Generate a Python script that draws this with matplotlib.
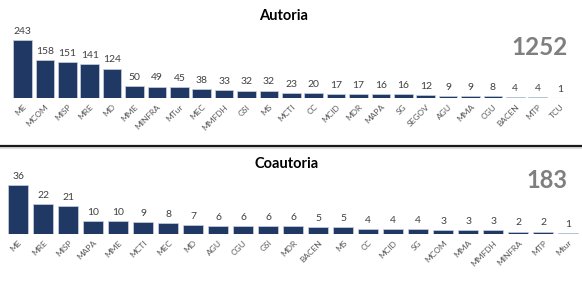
import matplotlib.pyplot as plt
from matplotlib.lines import Line2D

plt.rcParams['font.family'] = ['Lato', 'DejaVu Sans']

# Autoria
aut_labels = ["ME", "MCOM", "MISP", "MRE", "MD", "MME", "MINFRA", "MTur", "MEC",
              "MMFDH", "GSI", "MS", "MCTI", "CC", "MCID", "MDR", "MAPA", "SG",
              "SEGOV", "AGU", "MMA", "CGU", "BACEN", "MTP", "TCU"]
aut_values = [243, 158, 151, 141, 124, 50, 49, 45, 38, 33, 32, 32, 23, 20, 17,
              17, 16, 16, 12, 9, 9, 8, 4, 4, 1]
aut_total = "1252"

# Coautoria
coa_labels = ["ME", "MRE", "MISP", "MAPA", "MME", "MCTI", "MEC", "MD", "AGU",
              "CGU", "GSI", "MDR", "BACEN", "MS", "CC", "MCID", "SG", "MCOM",
              "MMA", "MMFDH", "MINFRA", "MTP", "Mtur"]
coa_values = [36, 22, 21, 10, 10, 9, 8, 7, 6, 6, 6, 6, 5, 5, 4, 4, 4, 3, 3, 3,
              2, 2, 1]
coa_total = "183"

navy = "#1f3864"
label_gray = "#404040"
tick_gray = "#595959"


def draw_bars(ax, labels, values, ymax, width):
    x = range(len(values))
    ax.bar(x, values, width=width, color=navy, edgecolor="#c9d3e0", linewidth=0.5)
    for i, v in zip(x, values):
        ax.annotate(str(v), (i, v), xytext=(0, 3), textcoords="offset points",
                    ha="center", va="bottom", fontsize=7.5, color=label_gray)
    ax.axhline(0, color="#d0d0d0", lw=0.8, zorder=0)
    ax.set_xlim(-0.5, len(values) - 0.5)
    ax.set_ylim(0, ymax)
    ax.set_xticks(list(x))
    ax.set_xticklabels(labels, rotation=45, ha="right", va="top",
                       rotation_mode="anchor", fontsize=6, color=tick_gray)
    ax.tick_params(axis="x", length=0, pad=3.5)
    ax.set_yticks([])
    for s in ax.spines.values():
        s.set_visible(False)
    ax.patch.set_alpha(0)


fig = plt.figure(figsize=(5.82, 2.88), dpi=100)

ax1 = fig.add_axes([0.0196, 0.6587, 0.962, 0.25])
draw_bars(ax1, aut_labels, aut_values, 300, 0.83)

ax2 = fig.add_axes([0.010, 0.1865, 0.988, 0.2127])
draw_bars(ax2, coa_labels, coa_values, 45, 0.8)

fig.text(0.487, 0.944, "Autoria", ha="center", va="center", fontsize=10.5,
         fontweight="bold", color="black")
fig.text(0.492, 0.432, "Coautoria", ha="center", va="center", fontsize=10.5,
         fontweight="bold", color="black")
fig.text(0.975, 0.835, aut_total, ha="right", va="center", fontsize=17.5,
         fontweight="bold", color="#7f7f7f")
fig.text(0.975, 0.373, coa_total, ha="right", va="center", fontsize=17,
         fontweight="bold", color="#7f7f7f")

# separator between the two panels
fig.add_artist(Line2D([0, 1], [0.486, 0.486], color="#e0e0e0", lw=1.5,
                      transform=fig.transFigure))
fig.add_artist(Line2D([0, 1], [0.494, 0.494], color="#1a1a1a", lw=1.6,
                      transform=fig.transFigure))

fig.savefig("out.png", dpi=100)
